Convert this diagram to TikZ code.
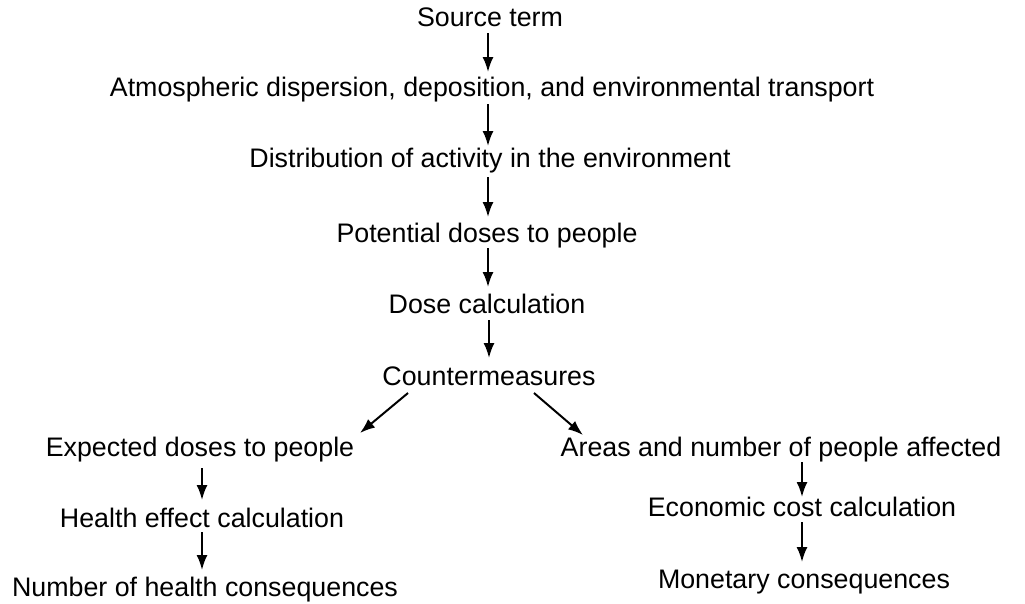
\documentclass[tikz,border=0pt]{standalone}
\usepackage{fontspec}
\setmainfont{Liberation Sans}
\usetikzlibrary{arrows.meta,calc}
\begin{document}
\begin{tikzpicture}[x=1pt,y=-1pt,
  lbl/.style={anchor=base,inner sep=0pt,font=\fontsize{26.8}{30}\selectfont},
  arr/.style={line width=2pt,-{Latex[length=15pt,width=11pt]}}]
\useasboundingbox (0,0) rectangle (1025,603);
\node[lbl] (src) at (490,26) {Source term};
\node[lbl] (atm) at (492,96) {Atmospheric dispersion, deposition, and environmental transport};
\node[lbl] (dist) at (490,167) {Distribution of activity in the environment};
\node[lbl] (pot) at (487,242) {Potential doses to people};
\node[lbl] (dose) at (487,313) {Dose calculation};
\node[lbl] (cm) at (489,385) {Countermeasures};
\node[lbl] (exp) at (200,456) {Expected doses to people};
\node[lbl] (area) at (781,456) {Areas and number of people affected};
\node[lbl] (hlth) at (202,527) {Health effect calculation};
\node[lbl] (econ) at (802,516) {Economic cost calculation};
\node[lbl] (num) at (205,596) {Number of health consequences};
\node[lbl] (mon) at (804,588) {Monetary consequences};
\draw[arr] ($(src.base)+(-2,7)$) -- ($(atm.base)+(-4,-24)$);
\draw[arr] ($(atm.base)+(-4,8)$) -- ($(dist.base)+(-2,-21)$);
\draw[arr] ($(dist.base)+(-2,10)$) -- ($(pot.base)+(1,-25)$);
\draw[arr] ($(pot.base)+(1,6)$) -- ($(dose.base)+(1,-26)$);
\draw[arr] ($(dose.base)+(2,7)$) -- ($(cm.base)+(0,-27)$);
\draw[arr] ($(cm.base)+(-81,8)$) -- ($(exp.base)+(160,-23)$);
\draw[arr] ($(cm.base)+(45,8)$) -- ($(area.base)+(-198,-21)$);
\draw[arr] ($(exp.base)+(2,12)$) -- ($(hlth.base)+(0,-27)$);
\draw[arr] ($(hlth.base)+(0,5)$) -- ($(num.base)+(-3,-26)$);
\draw[arr] ($(area.base)+(21,6)$) -- ($(econ.base)+(0,-19)$);
\draw[arr] ($(econ.base)+(0,6)$) -- ($(mon.base)+(-2,-26)$);
\end{tikzpicture}
\end{document}
